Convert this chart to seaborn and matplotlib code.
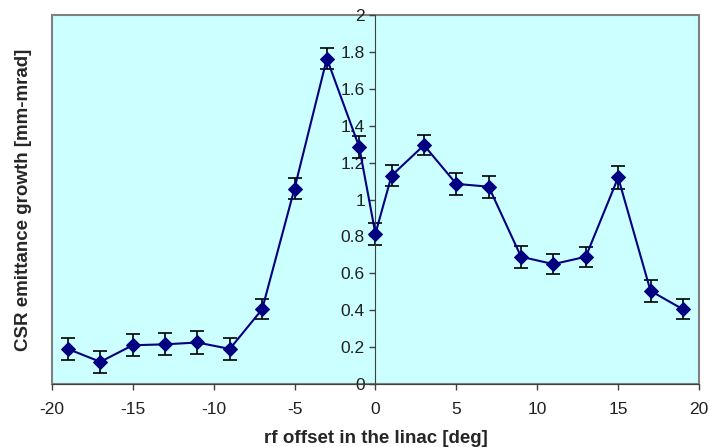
import matplotlib
matplotlib.use("Agg")
import matplotlib.pyplot as plt
import seaborn as sns
import pandas as pd

offset = [-19, -17, -15, -13, -11, -9, -7, -5, -3, -1, 0, 1, 3, 5, 7, 9, 11, 13, 15, 17, 19]
growth = [0.19, 0.12, 0.21, 0.215, 0.225, 0.19, 0.405, 1.06, 1.765, 1.285, 0.815,
          1.13, 1.295, 1.085, 1.07, 0.69, 0.65, 0.69, 1.12, 0.505, 0.405]
err = [0.06, 0.06, 0.06, 0.06, 0.06, 0.06, 0.055, 0.055, 0.055, 0.06, 0.06,
       0.055, 0.055, 0.06, 0.06, 0.06, 0.055, 0.055, 0.06, 0.06, 0.055]
yticks = [0, 0.2, 0.4, 0.6, 0.8, 1, 1.2, 1.4, 1.6, 1.8, 2]
ylabels = ["0", "0.2", "0.4", "0.6", "0.8", "1", "1.2", "1.4", "1.6", "1.8", "2"]

sns.set_style("white")
plt.rcParams['font.family'] = ['Liberation Sans', 'DejaVu Sans']
plt.rcParams['axes.unicode_minus'] = False

df = pd.DataFrame({'offset': offset, 'growth': growth})

fig, ax = plt.subplots(figsize=(7.09, 4.47), dpi=100)
fig.subplots_adjust(left=0.073, right=0.986, top=0.966, bottom=0.141)
ax.set_facecolor('#CCFFFF')
ax.patch.set_edgecolor('#808080')
ax.patch.set_linewidth(1.5)

ax.errorbar(offset, growth, yerr=err, fmt='none', ecolor='black',
            elinewidth=1.2, capsize=5, capthick=1.2, zorder=2)
sns.lineplot(data=df, x='offset', y='growth', ax=ax, color='#000080',
             marker='D', markersize=7, markeredgecolor='#000080',
             linewidth=1.5, zorder=3)

ax.set_xlim(-20, 20)
ax.set_ylim(0, 2)
ax.set_xticks([-20, -15, -10, -5, 0, 5, 10, 15, 20])
ax.set_yticks(yticks)
ax.set_yticklabels(ylabels)

for side in ['top', 'right']:
    ax.spines[side].set_visible(False)
ax.spines['left'].set_position(('data', 0))
ax.spines['left'].set_color('#404040')
ax.spines['bottom'].set_color('#404040')
ax.tick_params(axis='both', direction='out', length=4, width=1,
               color='#404040', labelsize=12.5, labelcolor='#202020',
               bottom=True, left=True)
ax.tick_params(axis='x', pad=9)

ax.set_xlabel("rf offset in the linac [deg]", fontsize=13.5, fontweight='bold')
ax.set_ylabel("CSR emittance growth [mm-mrad]", fontsize=13.5, fontweight='bold')
ax.yaxis.set_label_coords(-0.03, 0.5)
ax.xaxis.set_label_coords(0.5, -0.125)

fig.savefig("out.png", dpi=100)
